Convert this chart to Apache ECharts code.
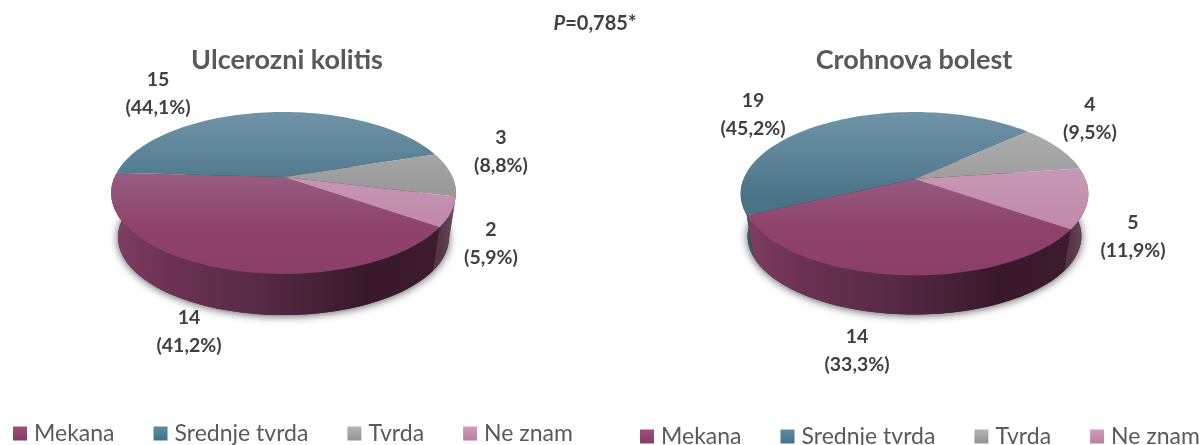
<!DOCTYPE html>
<html>
<head>
<meta charset="utf-8">
<style>
  html, body { margin: 0; padding: 0; background: #fff; }
  #chart { width: 1199px; height: 445px; }
</style>
<script src="https://cdn.jsdelivr.net/npm/echarts@6/dist/echarts.min.js"></script>
</head>
<body>
<div id="chart"></div>
<script>
const categories = ['Mekana', 'Srednje tvrda', 'Tvrda', 'Ne znam'];
const ulcerozniValues = [14, 15, 3, 2];
const crohnovaValues = [14, 19, 4, 5];

const legendColors = [
    ['#9c4f7c', '#863a64'],
    ['#5f8ba1', '#41738c'],
    ['#b4b4b4', '#939393'],
    ['#d09cba', '#bb7da1']
];
const topColors = [
    [[0, '#975c80'], [0.45, '#8f446c'], [1, '#8c3e68']],
    [[0, '#7094a7'], [1, '#4a7388']],
    [[0, '#b2b2b2'], [1, '#989898']],
    [[0, '#c796b4'], [1, '#b87c9f']]
];
const sideColors = [
    [[0, '#7d3f63'], [0.15, '#6d3254'], [0.45, '#552a42'], [0.75, '#38182a'], [1, '#3c1c2d']],
    [[0, '#4a6674'], [1, '#3c5664']],
    [[0, '#6a6a6a'], [1, '#5c5c5c']],
    [[0, '#553444'], [1, '#6a4d5e']]
];

const FONT = 'Lato';

// apex of the pie, perspective of the tilted disc and hand placed labels
const pies = [
    {
        values: ulcerozniValues, cx: 283.5, cy: 177, a: 169, b: 77.8, k: 0.197, scale: 0.96, drop: 45,
        labels: [[189, 332], [158, 94], [501, 152], [491, 244]]
    },
    {
        values: crohnovaValues, cx: 914.5, cy: 179, a: 171, b: 79, k: 0.18, scale: 0.96, drop: 43,
        labels: [[857, 351], [753, 115], [1090, 119], [1133, 237]]
    }
];
const START_ANGLE = -35;

function project(pie, deg, low) {
    const rad = deg * Math.PI / 180;
    const u = Math.cos(rad), v = Math.sin(rad);
    const d = 1 + pie.k * v;
    const x = pie.a * u / d;
    const y = -pie.b * v / d;
    if (low) return [pie.cx + x * pie.scale, pie.cy + y * pie.scale + pie.drop];
    return [pie.cx + x, pie.cy + y];
}

function arc(pie, from, to, low) {
    const pts = [];
    const n = Math.max(2, Math.ceil(Math.abs(to - from) / 2));
    for (let i = 0; i <= n; i++) pts.push(project(pie, from + (to - from) * i / n, low));
    return pts;
}

function gradient(x, y, x2, y2, stops) {
    return {
        type: 'linear', x, y, x2, y2, global: true,
        colorStops: stops.map(s => ({ offset: s[0], color: s[1] }))
    };
}

function percentLabel(value, total) {
    return '(' + (value / total * 100).toFixed(1).replace('.', ',') + '%)';
}

function renderSlice(pie, index) {
    return function (params, api) {
        const total = pie.values.reduce((s, v) => s + v, 0);
        let before = 0;
        for (let i = 0; i < index; i++) before += pie.values[i];
        const value = api.value(0);
        const end = START_ANGLE - before / total * 360;
        const start = end - value / total * 360;
        const children = [];

        // side wall, only the part of the rim that faces us (-180..0, also -540..-360)
        [[-180, 0], [-540, -360]].forEach(function (range) {
            const from = Math.max(start, range[0]);
            const to = Math.min(end, range[1]);
            if (to <= from) return;
            const xa = index === 0 ? pie.cx - pie.a : project(pie, from, false)[0];
            const xb = index === 0 ? pie.cx + pie.a : project(pie, to, false)[0];
            children.push({
                type: 'polygon',
                z2: 1,
                shape: { points: arc(pie, from, to, false).concat(arc(pie, to, from, true)) },
                style: { fill: gradient(Math.min(xa, xb), 0, Math.max(xa, xb), 0, sideColors[index]) }
            });
        });

        // top face
        const top = pie.cy - pie.b / (1 + pie.k);
        const bottom = pie.cy + pie.b / (1 - pie.k);
        const isBack = index === 1 || index === 2;
        children.push({
            type: 'polygon',
            z2: 5,
            shape: { points: [[pie.cx, pie.cy]].concat(arc(pie, start, end, false)) },
            style: {
                fill: gradient(0, isBack ? top : pie.cy, 0, isBack ? pie.cy + 20 : bottom, topColors[index])
            }
        });

        children.push({
            type: 'text',
            z2: 10,
            style: {
                x: pie.labels[index][0],
                y: pie.labels[index][1],
                text: value + '\n' + percentLabel(value, total),
                align: 'center',
                verticalAlign: 'middle',
                lineHeight: 28,
                fontFamily: FONT,
                fontWeight: 'bold',
                fontSize: 19.5,
                fill: '#404040'
            }
        });
        return { type: 'group', children };
    };
}

function renderShadow(pie) {
    return function () {
        return {
            type: 'polygon',
            shape: { points: arc(pie, 0, 360, true) },
            style: { fill: '#333', shadowBlur: 9, shadowColor: 'rgba(0,0,0,0.65)', shadowOffsetY: 1 }
        };
    };
}

const series = [];
pies.forEach(function (pie) {
    series.push({
        type: 'custom',
        name: 'shadow',
        coordinateSystem: 'none',
        silent: true,
        z: 1,
        data: [[0]],
        renderItem: renderShadow(pie)
    });
    categories.forEach(function (name, i) {
        series.push({
            type: 'custom',
            name,
            coordinateSystem: 'none',
            z: 2,
            itemStyle: {
                color: {
                    type: 'linear', x: 0, y: 0, x2: 0, y2: 1,
                    colorStops: [
                        { offset: 0, color: legendColors[i][0] },
                        { offset: 1, color: legendColors[i][1] }
                    ]
                }
            },
            data: [[pie.values[i]]],
            renderItem: renderSlice(pie, i)
        });
    });
});

function legendAt(left, top) {
    return {
        data: categories,
        left,
        top,
        width: 700,
        padding: 0,
        icon: 'rect',
        itemWidth: 14,
        itemHeight: 14,
        itemGap: 39,
        selectedMode: false,
        textStyle: { fontFamily: FONT, fontSize: 23, color: '#5a5a5a', padding: [0, 0, 0, 2] }
    };
}

function titleAt(text, left) {
    return {
        text,
        left,
        top: 42,
        textAlign: 'center',
        textStyle: { fontFamily: FONT, fontSize: 27, fontWeight: 'bold', color: '#595959' }
    };
}

const myChart = echarts.init(document.getElementById('chart'), null, { renderer: 'canvas' });

myChart.setOption({
    animation: false,
    backgroundColor: '#fff',
    title: [
        titleAt('Ulcerozni kolitis', 282),
        titleAt('Crohnova bolest', 909),
        {
            text: '{i|P}=0,785*',
            left: 590,
            top: 9,
            textAlign: 'center',
            textStyle: {
                fontFamily: FONT,
                fontSize: 20,
                fontWeight: 'bold',
                color: '#404040',
                rich: {
                    i: { fontFamily: FONT, fontSize: 20, fontWeight: 'bold', fontStyle: 'italic', color: '#404040' }
                }
            }
        }
    ],
    legend: [legendAt(13, 422), legendAt(640, 425)],
    series
});
</script>
</body>
</html>
